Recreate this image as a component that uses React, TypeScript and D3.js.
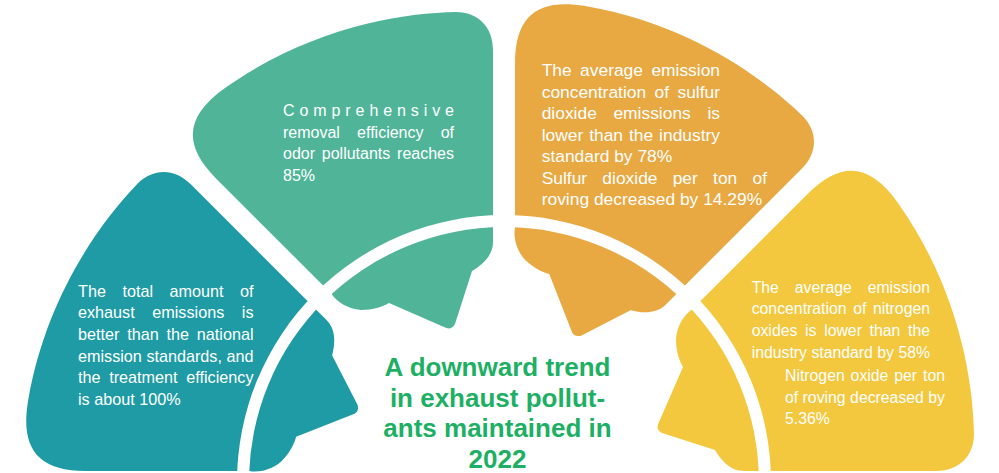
import React, { useMemo } from 'react';
import * as d3 from 'd3';

const W = 999;
const H = 473;
const CX = 504;
const CY = 482;
const FONT = "'Liberation Sans', Arial, Helvetica, sans-serif";

// petals: one shape, rotated around the common centre
const petalNames = ['teal', 'green', 'orange', 'yellow'];
const petalColors = ['#1E9BA4', '#50B598', '#E8A942', '#F3C83E'];
const petalRotations = [-45, 0, 45, 90];

// text content
const tealLines = [
  'The total amount of',
  'exhaust emissions is',
  'better than the national',
  'emission standards, and',
  'the treatment efficiency',
  'is about 100%',
];
const tealJustify = [true, true, true, true, true, false];

const greenLines = [
  'Comprehensive',
  'removal efficiency of',
  'odor pollutants reaches',
  '85%',
];
const greenJustify = [true, true, true, false];

const orangeLines = [
  'The average emission',
  'concentration of sulfur',
  'dioxide emissions is',
  'lower than the industry',
  'standard by 78%',
  'Sulfur dioxide per ton of',
  'roving decreased by 14.29%',
];
const orangeJustify = [true, true, true, true, false, true, false];

const yellowLines1 = [
  'The average emission',
  'concentration of nitrogen',
  'oxides is lower than the',
  'industry standard by 58%',
];
const yellowJustify1 = [true, true, true, true];
const yellowLines2 = ['Nitrogen oxide per ton', 'of roving decreased by', '5.36%'];
const yellowJustify2 = [true, true, false];

const titleLines = ['A downward trend', 'in exhaust pollut-', 'ants maintained in', '2022'];

// layout of text blocks
const blockLayout = [
  { lines: tealLines, justify: tealJustify, x0: 78, x1: 253.5, y0: 296.7, lh: 21.65, size: 16.2 },
  { lines: greenLines, justify: greenJustify, x0: 283, x1: 454, y0: 116, lh: 21.5, size: 16 },
  { lines: orangeLines, justify: orangeJustify, x0: 541.7, x1: 720, y0: 76, lh: 21.5, size: 17.4, wideFrom: 5, wideX1: 767 },
  { lines: yellowLines1, justify: yellowJustify1, x0: 751.7, x1: 930, y0: 292.7, lh: 21.7, size: 15.8 },
  { lines: yellowLines2, justify: yellowJustify2, x0: 785, x1: 945, y0: 381, lh: 21.7, size: 15.8 },
];

let ctx: CanvasRenderingContext2D | null = null;
function measure(text: string, size: number, weight = 'normal') {
  if (!ctx) ctx = document.createElement('canvas').getContext('2d');
  if (!ctx) return text.length * size * 0.5;
  ctx.font = `${weight} ${size}px ${FONT}`;
  return ctx.measureText(text).width;
}

function petalPath() {
  const p = d3.path();
  p.moveTo(493, 242);
  p.lineTo(493, 50);
  p.bezierCurveTo(493, 27, 478, 12, 456, 12);
  p.bezierCurveTo(400, 13, 310, 28, 225, 88);
  p.bezierCurveTo(187, 115, 181, 143.4, 216, 178.4);
  p.lineTo(331.6, 294);
  p.bezierCurveTo(337, 302, 348, 309, 361, 310);
  p.bezierCurveTo(373, 310, 382, 307, 389, 303);
  p.lineTo(444, 327);
  p.quadraticCurveTo(451, 331, 455, 324);
  p.lineTo(472, 271);
  p.bezierCurveTo(482, 265, 493, 256, 493, 242);
  p.closePath();
  return p.toString();
}

type Piece = { text: string; x: number };

function layoutLine(line: string, justify: boolean, x0: number, x1: number, size: number): Piece[] {
  if (!justify) return [{ text: line, x: x0 }];
  const words = line.split(' ');
  const width = x1 - x0;
  if (words.length === 1) {
    const chars = line.split('');
    const widths = chars.map((c) => measure(c, size));
    const sum = d3.sum(widths);
    const gap = chars.length > 1 ? (width - sum) / (chars.length - 1) : 0;
    let x = x0;
    return chars.map((c, i) => {
      const piece = { text: c, x };
      x += widths[i] + gap;
      return piece;
    });
  }
  const widths = words.map((w) => measure(w, size));
  const sum = d3.sum(widths);
  const gap = (width - sum) / (words.length - 1);
  let x = x0;
  return words.map((w, i) => {
    const piece = { text: w, x };
    x += widths[i] + gap;
    return piece;
  });
}

export default function App() {
  const path = useMemo(() => petalPath(), []);
  const ring = useMemo(
    () => d3.arc()({ innerRadius: 255, outerRadius: 267, startAngle: 0, endAngle: 2 * Math.PI } as any) as string,
    []
  );

  return (
    <svg
      width={W}
      height={H}
      viewBox={`0 0 ${W} ${H}`}
      style={{ position: 'absolute', left: 0, top: 0, background: '#fff', overflow: 'hidden' }}
    >
      {petalNames.map((name, i) => (
        <path
          key={name}
          d={path}
          fill={petalColors[i]}
          transform={`rotate(${petalRotations[i]}, ${CX}, ${CY})`}
        />
      ))}
      <path d={ring} fill="#fff" transform={`translate(${CX},${CY})`} />

      {blockLayout.map((b, bi) =>
        b.lines.map((line, li) => {
          const x1 = b.wideFrom !== undefined && li >= b.wideFrom ? b.wideX1 : b.x1;
          const pieces = layoutLine(line, b.justify[li], b.x0, x1 as number, b.size);
          return (
            <text
              key={`${bi}-${li}`}
              y={b.y0 + li * b.lh}
              fill="#fff"
              fontFamily={FONT}
              fontSize={b.size}
            >
              {pieces.map((p, pi) => (
                <tspan key={pi} x={p.x}>
                  {p.text}
                </tspan>
              ))}
            </text>
          );
        })
      )}

      {titleLines.map((t, i) => (
        <text
          key={t}
          x={497.5}
          y={376 + i * 30.5}
          textAnchor="middle"
          fill="#1DB064"
          fontFamily={FONT}
          fontWeight="bold"
          fontSize={26}
        >
          {t}
        </text>
      ))}
    </svg>
  );
}
